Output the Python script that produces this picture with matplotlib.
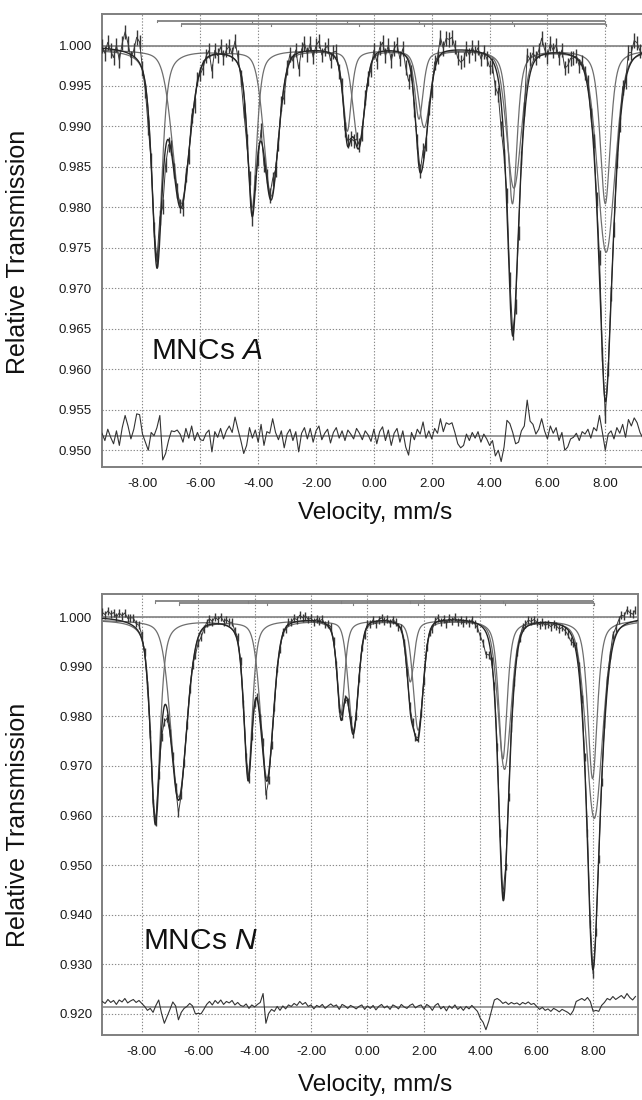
import numpy as np
import matplotlib
matplotlib.use("Agg")
import matplotlib.pyplot as plt

plt.rcParams['font.family'] = ['Liberation Sans', 'DejaVu Sans']
plt.rcParams['axes.unicode_minus'] = False
plt.rcParams['mathtext.fontset'] = 'custom'
plt.rcParams['mathtext.rm'] = 'Liberation Sans'
plt.rcParams['mathtext.it'] = 'Liberation Sans:italic'

# ---------------- data ----------------
x_ticks = [-8, -6, -4, -2, 0, 2, 4, 6, 8]
y_ticks_A = [0.950, 0.955, 0.960, 0.965, 0.970, 0.975, 0.980, 0.985, 0.990, 0.995, 1.000]
y_ticks_N = [0.920, 0.930, 0.940, 0.950, 0.960, 0.970, 0.980, 0.990, 1.000]
x_label = "Velocity, mm/s"
y_label = "Relative Transmission"
label_A = r"MNCs $\mathit{A}$"
label_N = r"MNCs $\mathit{N}$"

# velocity channels (mm/s)
channels = np.round(-9.4 + 0.1 * np.arange(190), 2)

# --- sample A: two fitted sextets (line positions mm/s, depths, half widths, lorentz fraction)
A_s1_pos = [-7.50, -4.21, -0.92, 1.56, 4.79, 8.00]
A_s1_dep = [0.0262, 0.0195, 0.0100, 0.0085, 0.0190, 0.0190]
A_s1_hw = [0.21, 0.19, 0.17, 0.17, 0.19, 0.21]
A_s2_pos = [-6.67, -3.55, -0.52, 1.74, 4.84, 8.03]
A_s2_dep = [0.0190, 0.0180, 0.0115, 0.0095, 0.0170, 0.0250]
A_s2_hw = [0.36, 0.30, 0.24, 0.24, 0.30, 0.36]
A_eta = [0.6, 0.3]
A_base = 1.0000
A_res_base = 0.95177
# residual (data - fit), units of 1e-4
A_resid = [3, -6, 8, -2, -10, 6, -12, 10, 25, 12, -4, 8, 27, 26, 2, -8, -18, 4, 0, 10,
           25, -30, -22, -6, 6, 5, 7, 2, -8, 9, -3, 12, -6, 4, -5, -6, 3, 7, -20, 5,
           -2, 9, -4, 6, 12, 4, 23, 8, -6, -22, -12, 10, -3, 7, -8, 14, -12, 5, 3, 21,
           4, -5, 6, -15, 2, 8, -6, 5, -20, 3, 10, -4, 9, -8, 6, 12, -5, 3, 8, -9,
           4, 10, -3, 6, -6, 7, 2, -4, 9, 3, -5, 6, 1, -7, 8, -10, 5, 11, -6, 7,
           -12, 3, 9, -8, 6, -14, -24, 4, -5, 8, 2, 17, -3, 6, -4, 9, 3, 21, 5, 16,
           14, 16, 4, -10, -15, -12, 2, -6, 4, -3, 5, -8, 2, -4, -12, -6, -25, -18, -32, -14,
           19, 15, 4, -10, -8, 6, 12, 44, 18, 14, 2, 8, 21, 6, -4, 12, 3, 10, -6, 4,
           -18, -14, -4, -2, 3, -6, 5, 2, 8, -3, 10, 6, 25, 4, -18, 2, 6, -4, 10, 3,
           14, -2, 20, 12, 22, 16, 4, -3, 8, 2]

# --- sample N
N_s1_pos = [-7.52, -4.23, -0.94, 1.52, 4.80, 7.98]
N_s1_dep = [0.0401, 0.0313, 0.0187, 0.0124, 0.0280, 0.0320]
N_s1_hw = [0.20, 0.18, 0.16, 0.16, 0.18, 0.20]
N_s2_pos = [-6.69, -3.56, -0.50, 1.80, 4.86, 8.04]
N_s2_dep = [0.0357, 0.0318, 0.0222, 0.0221, 0.0300, 0.0400]
N_s2_hw = [0.34, 0.27, 0.21, 0.21, 0.27, 0.34]
N_eta = [0.6, 0.3]
N_base = 1.0003
N_res_base = 0.92127
N_resid = [12, 8, 16, 10, 14, 6, 15, 11, 18, 9, 13, 16, 10, 14, 8, 2, -6, -2, -10, 4,
           15, -12, -32, -18, -4, 11, 3, -25, -10, -2, 2, 8, 3, -13, -12, -13, -4, 6, 12, 5,
           14, 8, 15, 6, 12, 9, 14, 5, 10, 4, 2, 7, -2, 5, 1, 6, 10, 28, -32, -12,
           -4, -8, 2, -6, 3, -3, 5, 2, 8, 4, 12, 6, 10, 2, 5, -3, 4, 1, 6, -2,
           3, 7, 2, 5, -4, 6, 3, -2, 4, 1, -3, 2, 5, -4, 3, -2, 4, -5, 2, 6,
           -1, 3, -4, 5, 2, -3, 6, 1, -2, 4, 7, -1, 3, 5, -4, 6, 2, -6, 4, 8,
           -3, 2, -7, 3, -2, 5, -4, 1, -6, 2, -3, 4, -2, -8, -22, -30, -45, -28, -6, 15,
           18, 14, 8, 11, 6, 10, 7, 9, 5, 10, 7, 11, 6, 8, 2, -4, 0, -6, -3, -8,
           -2, -5, -9, -4, -7, -10, -15, -6, 12, 15, 18, 14, 20, 12, -8, -6, -8, 4, 10, 18,
           15, 22, 16, 20, 24, 18, 28, 20, 15, 22]

# ---------------- helpers ----------------
def line_shape(v, pos, hw, eta):
    u = ((v - pos) / hw) ** 2
    return eta / (1.0 + u) + (1.0 - eta) * np.exp(-np.log(2.0) * u)


def sextet(v, pos, dep, hw, eta):
    out = np.zeros_like(v, dtype=float)
    for p, d, w in zip(pos, dep, hw):
        out += d * line_shape(v, p, w, eta)
    return out


XLIM = (-9.41, 9.58)
GRAY_SPINE = '#7f7f7f'
C_COMP = '#6e6e6e'
C_FIT = '#262626'
C_DATA = '#383838'

fig = plt.figure(figsize=(6.42, 11.0), dpi=100)
W, H = 642.0, 1100.0


def axes_px(l, t, r, b):
    return fig.add_axes([l / W, 1 - b / H, (r - l) / W, (b - t) / H])


def draw_panel(ax, s1, s2, eta, base, resid, res_base, err, ylim, yticks, label, label_xy,
               bar_y):
    fine = np.linspace(XLIM[0], XLIM[1], 3000)
    c1 = sextet(fine, *s1, eta[0])
    c2 = sextet(fine, *s2, eta[1])
    fit_f = base - c1 - c2
    ch = np.array(channels)
    fit_c = base - sextet(ch, *s1, eta[0]) - sextet(ch, *s2, eta[1])
    r = np.array(resid) * 1e-4
    data = fit_c + r

    ax.set_xlim(*XLIM)
    ax.set_ylim(*ylim)
    ax.set_xticks(x_ticks)
    ax.set_xticklabels([f"{t:.2f}" for t in x_ticks])
    ax.set_yticks(yticks)
    ax.set_yticklabels([f"{t:.3f}" for t in yticks])
    ax.tick_params(axis='both', length=0, labelsize=9.5, colors='#1a1a1a')
    ax.tick_params(axis='x', pad=8)
    ax.tick_params(axis='y', pad=7)
    ax.grid(True, linestyle=(0, (1.2, 1.6)), color='#8a8a8a', linewidth=0.8, zorder=0)
    for s in ax.spines.values():
        s.set_color(GRAY_SPINE)
        s.set_linewidth(1.4)

    # reference lines
    ax.axhline(1.0, color='#8a8a8a', lw=1.3, zorder=1)
    ax.axhline(res_base, color='#8a8a8a', lw=1.2, zorder=1)

    # components
    ax.plot(fine, 0.9995 - c1, color=C_COMP, lw=0.9, zorder=2)
    ax.plot(fine, 0.9995 - c2, color=C_COMP, lw=0.9, zorder=2)
    # data
    ax.errorbar(ch, data, yerr=err, fmt='-', color=C_DATA, lw=0.7, ecolor=C_DATA,
                elinewidth=1.0, capsize=0, zorder=3)
    ax.plot(fine, fit_f, color=C_FIT, lw=1.0, zorder=4)
    # residual
    ax.plot(ch, res_base + r, color='#333333', lw=0.8, zorder=3)

    # sextet bars
    for (pos, _, _), yb in zip((s1, s2), bar_y):
        ax.plot([min(pos), max(pos)], [yb, yb], color='#808080', lw=1.3, zorder=2,
                solid_capstyle='butt')
        dy = (ylim[1] - ylim[0]) * 0.004
        for p in pos:
            ax.plot([p, p], [yb, yb - dy], color='#808080', lw=0.8, zorder=2)

    ax.text(label_xy[0], label_xy[1], label, fontsize=21.5, color='#111111',
            va='baseline', ha='left', zorder=5)


axA = axes_px(101.7, 14, 651, 467)
draw_panel(axA, (A_s1_pos, A_s1_dep, A_s1_hw), (A_s2_pos, A_s2_dep, A_s2_hw), A_eta,
           A_base, A_resid, A_res_base, 0.0009, (0.9479, 1.0039), y_ticks_A, label_A,
           (-7.69, 0.9613), (1.00308, 1.00267))

axN = axes_px(102, 594.3, 637.7, 1035)
draw_panel(axN, (N_s1_pos, N_s1_dep, N_s1_hw), (N_s2_pos, N_s2_dep, N_s2_hw), N_eta,
           N_base, N_resid, N_res_base, 0.0008, (0.9157, 1.00465), y_ticks_N, label_N,
           (-7.94, 0.9330), (1.00335, 1.00283))

# axis titles
fig.text(18 / W, 1 - 252 / H, y_label, rotation=90, ha='center', va='center', fontsize=18,
         color='#111111')
fig.text(18 / W, 1 - 825 / H, y_label, rotation=90, ha='center', va='center', fontsize=18,
         color='#111111')
fig.text(375 / W, 1 - 513 / H, x_label, ha='center', va='center', fontsize=17.5,
         color='#111111')
fig.text(375 / W, 1 - 1085 / H, x_label, ha='center', va='center', fontsize=17.5,
         color='#111111')

fig.savefig("out.png", dpi=100)
